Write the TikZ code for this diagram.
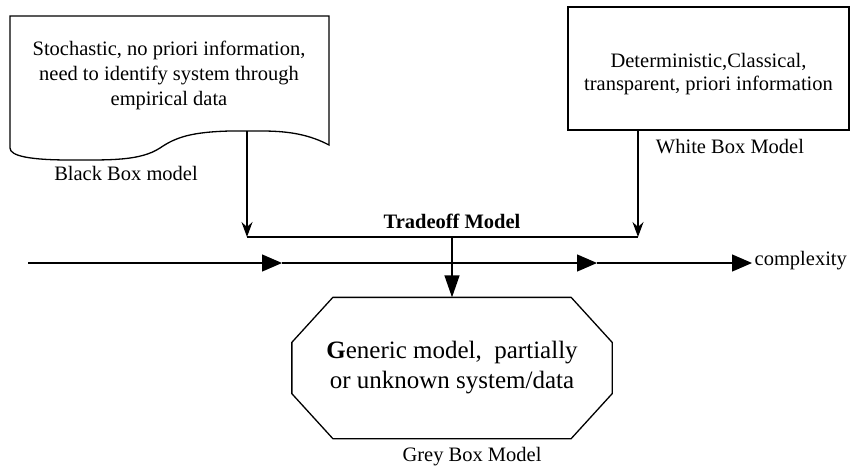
\documentclass[tikz,border=0pt]{standalone}
\usepackage{fontspec}
\setmainfont{Liberation Serif}
\usetikzlibrary{arrows.meta}

\begin{document}
\begin{tikzpicture}[x=1pt,y=-1pt,line width=1.3pt,
      every node/.style={font=\fontsize{20.5}{24}\selectfont},
      caption/.style={inner sep=0pt},
      boxtext/.style={align=center,inner sep=0pt},
      whitebox/.style={draw,rectangle,minimum width=281pt,minimum height=123pt},
      greybox/.style={rectangle,minimum width=319pt,minimum height=140pt,
        align=center,font=\fontsize{25}{30}\selectfont},
      into/.style={-{Stealth[length=15pt,width=11pt,inset=5pt]}},
      flow/.style={-{Triangle[length=20pt,width=17pt]}},
      down/.style={-{Triangle[length=22pt,width=15pt]}}]
  \useasboundingbox (0,0) rectangle (850,469);
  % black box model
  \draw (10,16) -- (329,16) -- (329,145) .. controls (310,135) and (290,131) .. (262,131)
    -- (230,131) .. controls (192,132) and (176,137) .. (160,148)
    .. controls (140,161) and (110,160) .. (70,160)
    .. controls (30,160) and (10,156) .. (10,148) -- cycle;
  \node[boxtext,font=\fontsize{20.5}{25}\selectfont] (black) at (169,75)
    {Stochastic, no priori information,\\need to identify system through\\empirical data};
  \node[caption] (blacklbl) at (126,173) {Black Box model};
  \coordinate (blackout) at (247,131);
  % white box model
  \node[whitebox] (white) at (708.5,68.5) {};
  \node[boxtext,font=\fontsize{20.5}{23}\selectfont] (whitetxt) at (708.5,74)
    {Deterministic,Classical,\\transparent, priori information};
  \node[caption] (whitelbl) at (730,147) {White Box Model};
  % tradeoff
  \coordinate (jl) at (247,237);
  \coordinate (jm) at (452,237);
  \coordinate (jr) at (638,237);
  \draw[into] (blackout) -- (jl);
  \draw[into] (white.south -| jr) -- (jr);
  \draw (jl) -- (jr);
  \node[caption,font=\bfseries\fontsize{20.5}{24}\selectfont] (trade) at (452,221) {Tradeoff Model};
  % complexity axis
  \coordinate (a0) at (28,263);
  \coordinate (a1) at (282,263);
  \coordinate (a2) at (597,263);
  \coordinate (a3) at (752,263);
  \draw[flow] (a0) -- (a1);
  \draw[flow] (a1) -- (a2);
  \draw[flow] (a2) -- (a3);
  \node[caption,anchor=west] (cplx) at (754,261) {complexity};
  % grey box model
  \node[greybox] (grey) at (452,368)
    {{\bfseries G}eneric model,~ partially\\or unknown system/data};
  \draw ([xshift=41pt]grey.north west) -- ([xshift=-41pt]grey.north east)
    -- ([yshift=-45pt]grey.north east) -- ([yshift=45pt]grey.south east)
    -- ([xshift=-41pt]grey.south east) -- ([xshift=41pt]grey.south west)
    -- ([yshift=45pt]grey.south west) -- ([yshift=-45pt]grey.north west) -- cycle;
  \draw[down] (jm) -- (grey.north);
  \node[caption] (greylbl) at (472,457) {Grey Box Model};
\end{tikzpicture}
\end{document}
